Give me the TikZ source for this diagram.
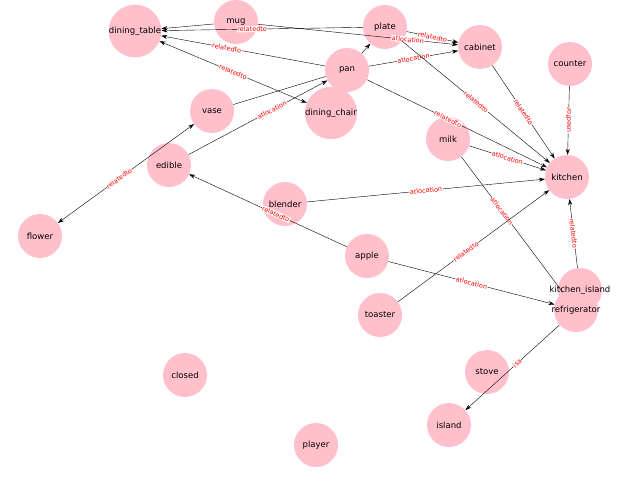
\documentclass[tikz,border=0pt]{standalone}
\usepackage{fontspec}
\setmainfont{DejaVu Sans}
\usetikzlibrary{arrows.meta}
\definecolor{nodepink}{RGB}{255,192,203}
\begin{document}
\begin{tikzpicture}[x=1pt,y=-1pt,
  vert/.style={circle,fill=nodepink,minimum size=44pt,inner sep=0pt,font=\fontsize{8.5}{9}\selectfont},
  edge/.style={-{Stealth[length=6pt,width=4pt]},thin,black},
  dedge/.style={{Stealth[length=6pt,width=4pt]}-{Stealth[length=6pt,width=4pt]},thin,black},
  plain/.style={thin,black},
  lab/.style={sloped,fill=white,inner sep=0.5pt,text=red,font=\fontsize{6.5}{7}\selectfont}]
\useasboundingbox (0,0) rectangle (640,499);
\node[vert] (dt) at (135,31) {dining\_table};
\node[vert] (mug) at (236,22) {mug};
\node[vert] (plate) at (385,27) {plate};
\node[vert] (cab) at (480,47) {cabinet};
\node[vert] (cnt) at (570,64) {counter};
\node[vert] (pan) at (347,70) {pan};
\node[vert] (dc) at (331,113) {dining\_chair};
\node[vert] (vase) at (212,111) {vase};
\node[vert] (milk) at (448,139) {milk};
\node[vert] (ed) at (169,165) {edible};
\node[vert] (kit) at (567,177) {kitchen};
\node[vert] (bl) at (285,204) {blender};
\node[vert] (fl) at (40,236) {flower};
\node[vert] (ap) at (367,256) {apple};
\node[vert] (to) at (380,315) {toaster};
\node[vert] (ki) at (580,290) {};
\node[vert] (fr) at (576,310) {};
\node at (580,290) {\fontsize{8.5}{9}\selectfont kitchen\_island};
\node at (576,310) {\fontsize{8.5}{9}\selectfont refrigerator};
\node[vert] (st) at (487,372) {stove};
\node[vert] (is) at (449,425) {island};
\node[vert] (cl) at (185,375) {closed};
\node[vert] (pl) at (316,445) {player};

\draw[edge] (mug) -- (dt);
\draw[edge] (plate) -- node[lab,pos=0.55]{relatedto} (dt);
\draw[edge] (pan) -- node[lab,pos=0.6]{relatedto} (dt);
\draw[dedge] (dt) -- node[lab]{relatedto} (dc);
\draw[edge] (ed) -- node[lab,pos=0.6]{atlocation} (pan);
\draw[plain] (vase) -- (pan);
\draw[dedge] (fl) -- node[lab,pos=0.45]{relatedto} (vase);
\draw[edge] (plate) -- node[lab]{relatedto} (cab);
\draw[edge] (pan) -- node[lab]{atlocation} (cab);
\draw[edge] (mug) -- node[lab,pos=0.75]{atlocation} (cab);
\draw[edge] (pan) -- (plate);
\draw[edge] (cab) -- node[lab]{relatedto} (kit);
\draw[edge] (cnt) -- node[lab]{usedfor} (kit);
\draw[edge] (plate) -- node[lab]{relatedto} (kit);
\draw[edge] (pan) -- node[lab,pos=0.45]{relatedto} (kit);
\draw[edge] (milk) -- node[lab]{atlocation} (kit);
\draw[plain] (milk) -- node[lab,pos=0.4]{atlocation} (fr);
\draw[edge] (bl) -- node[lab]{atlocation} (kit);
\draw[edge] (ap) -- node[lab,pos=0.45]{relatedto} (ed);
\draw[edge] (ap) -- node[lab]{atlocation} (fr);
\draw[edge] (to) -- node[lab,pos=0.45]{relatedto} (kit);
\draw[edge] (ki) -- node[lab]{relatedto} (kit);
\draw[edge] (fr) -- node[lab,pos=0.45]{isa} (is);
\end{tikzpicture}
\end{document}
